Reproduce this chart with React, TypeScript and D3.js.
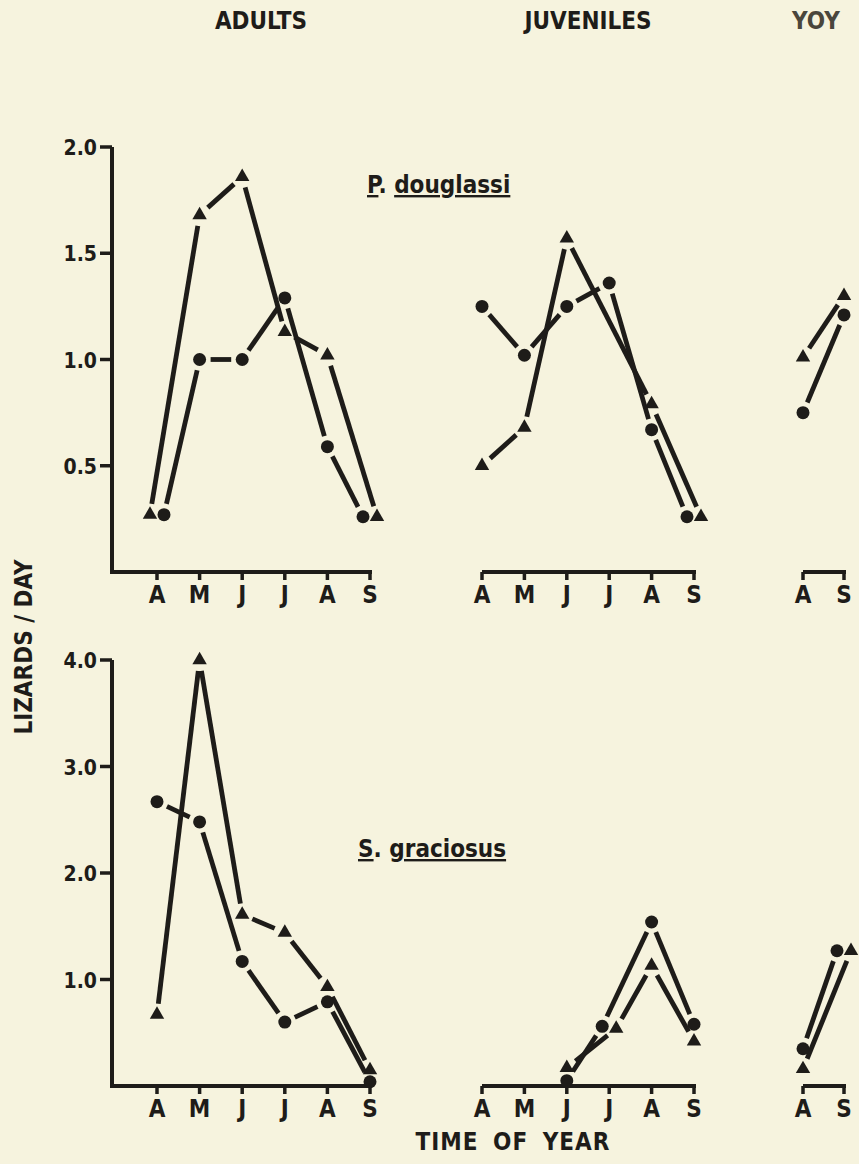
import React from 'react';
import * as d3 from 'd3';

// month labels (April .. September)
const months = ['A', 'M', 'J', 'J', 'A', 'S'];
const yoyMonths = ['A', 'S'];

const topTicks = [0.5, 1.0, 1.5, 2.0];
const bottomTicks = [1.0, 2.0, 3.0, 4.0];

// P. douglassi
const pdAdultTri = [0.27, 1.68, 1.86, 1.13, 1.02, 0.26];
const pdAdultCir = [0.27, 1.0, 1.0, 1.29, 0.59, 0.26];
const pdJuvTri = [0.5, 0.68, 1.57, null, 0.79, 0.26];
const pdJuvCir = [1.25, 1.02, 1.25, 1.36, 0.67, 0.26];
const pdYoyTri = [1.01, 1.3];
const pdYoyCir = [0.75, 1.21];

// S. graciosus
const sgAdultTri = [0.67, 4.0, 1.61, 1.44, 0.93, 0.15];
const sgAdultCir = [2.67, 2.48, 1.17, 0.6, 0.79, 0.04];
const sgJuvTri = [null, null, 0.17, 0.54, 1.13, 0.42];
const sgJuvCir = [null, null, 0.05, 0.56, 1.54, 0.58];
const sgYoyTri = [0.16, 1.27];
const sgYoyCir = [0.35, 1.27];

const W = 859;
const H = 1164;
const ink = '#1e1c19';
const bg = '#f6f3de';
const font = '"DejaVu Sans Condensed", "Liberation Sans Narrow", "DejaVu Sans", sans-serif';

const topY = d3.scaleLinear().domain([0, 2]).range([572, 147]);
const botY = d3.scaleLinear().domain([0, 4]).range([1086, 660]);

const adultX = d3.scaleLinear().domain([0, 5]).range([157, 370]);
const juvX = d3.scaleLinear().domain([0, 5]).range([482, 694]);
const yoyX = d3.scaleLinear().domain([0, 1]).range([803, 844]);

const line = d3.line();
const triPath = d3.symbol(d3.symbolTriangle, 90)();

type Vals = (number | null)[];

// push overlapping markers apart sideways
function offsets(tri: Vals, cir: Vals, y: d3.ScaleLinear<number, number>) {
  const t = tri.map(() => 0);
  const c = cir.map(() => 0);
  tri.forEach((v, i) => {
    const w = cir[i];
    if (v == null || w == null) return;
    if (Math.abs(y(v) - y(w)) < 10) {
      if (i === 0) { t[i] = -7; c[i] = 7; } else { t[i] = 7; c[i] = -7; }
    }
  });
  return { t, c };
}

function Series({ vals, off, x, y, kind }: any) {
  const pts: [number, number][] = [];
  vals.forEach((v: number | null, i: number) => {
    if (v != null) pts.push([x(i) + off[i], y(v)]);
  });
  const gap = 11;
  const segs = [];
  for (let i = 1; i < pts.length; i++) {
    const [x1, y1] = pts[i - 1];
    const [x2, y2] = pts[i];
    const len = Math.hypot(x2 - x1, y2 - y1);
    if (len <= gap * 2) continue;
    const ux = (x2 - x1) / len, uy = (y2 - y1) / len;
    segs.push(line([[x1 + ux * gap, y1 + uy * gap], [x2 - ux * gap, y2 - uy * gap]]));
  }
  return (
    <g>
      {segs.map((d, i) => (
        <path key={i} d={d as string} stroke={ink} strokeWidth={4.8} fill="none" />
      ))}
      {pts.map(([px, py], i) =>
        kind === 'tri' ? (
          <path key={'m' + i} d={triPath as string} transform={`translate(${px},${py})`} fill={ink} />
        ) : (
          <circle key={'m' + i} cx={px} cy={py} r={6.5} fill={ink} />
        )
      )}
    </g>
  );
}

function Panel({ tri, cir, x, y }: any) {
  const { t, c } = offsets(tri, cir, y);
  return (
    <g>
      <Series vals={tri} off={t} x={x} y={y} kind="tri" />
      <Series vals={cir} off={c} x={x} y={y} kind="cir" />
    </g>
  );
}

function MonthAxis({ x, y0, labels, fromX }: any) {
  const idx = labels.map((_: string, i: number) => i);
  const start = fromX ?? x(0);
  return (
    <g>
      <line x1={start} x2={x(idx.length - 1) + 2} y1={y0} y2={y0} stroke={ink} strokeWidth={4} />
      {idx.map((i: number) => (
        <line key={i} x1={x(i)} x2={x(i)} y1={y0} y2={y0 + 8} stroke={ink} strokeWidth={3.5} />
      ))}
      {labels.map((m: string, i: number) => (
        <text key={'t' + i} x={x(i)} y={y0 + 31} textAnchor="middle" fontSize={24} fontWeight="bold" fill={ink}>
          {m}
        </text>
      ))}
    </g>
  );
}

function ValueAxis({ y, ticks }: any) {
  const top = y(ticks[ticks.length - 1]);
  return (
    <g>
      <line x1={112} x2={112} y1={y(0) + 2} y2={top} stroke={ink} strokeWidth={4} />
      {ticks.map((v: number) => (
        <g key={v}>
          <line x1={100} x2={112} y1={y(v)} y2={y(v)} stroke={ink} strokeWidth={3.5} />
          <text x={97} y={y(v) + 8} textAnchor="end" fontSize={21} fontWeight="bold" fill={ink}>
            {v.toFixed(1)}
          </text>
        </g>
      ))}
    </g>
  );
}

function Species({ x, y, genus, name }: any) {
  return (
    <text x={x} y={y} fontSize={24} fontWeight="bold" fill={ink}>
      <tspan style={{ textDecoration: 'underline' }}>{genus}</tspan>
      <tspan>. </tspan>
      <tspan style={{ textDecoration: 'underline' }}>{name}</tspan>
    </text>
  );
}

export default function App() {
  return (
    <div style={{ position: 'absolute', left: 0, top: 0 }}>
      <svg width={W} height={H} style={{ display: 'block', fontFamily: font }}>
        <rect width={W} height={H} fill={bg} />

        <text x={261} y={29} textAnchor="middle" fontSize={24} fontWeight="bold" fill={ink}>ADULTS</text>
        <text x={588} y={29} textAnchor="middle" fontSize={24} fontWeight="bold" fill={ink}>JUVENILES</text>
        <text x={816} y={29} textAnchor="middle" fontSize={24} fontWeight="bold" fill="#4a463c">YOY</text>

        <text transform="translate(32,647) rotate(-90)" textAnchor="middle" fontSize={24} fontWeight="bold" fill={ink}>
          LIZARDS / DAY
        </text>
        <text x={513} y={1150} textAnchor="middle" fontSize={24} fontWeight="bold" fill={ink} letterSpacing={1} wordSpacing={6}>
          TIME OF YEAR
        </text>

        {/* P. douglassi */}
        <ValueAxis y={topY} ticks={topTicks} />
        <MonthAxis x={adultX} y0={topY(0)} labels={months} fromX={112} />
        <MonthAxis x={juvX} y0={topY(0)} labels={months} />
        <MonthAxis x={yoyX} y0={topY(0)} labels={yoyMonths} />
        <Species x={367} y={193} genus="P" name="douglassi" />
        <Panel tri={pdAdultTri} cir={pdAdultCir} x={adultX} y={topY} />
        <Panel tri={pdJuvTri} cir={pdJuvCir} x={juvX} y={topY} />
        <Panel tri={pdYoyTri} cir={pdYoyCir} x={yoyX} y={topY} />

        {/* S. graciosus */}
        <ValueAxis y={botY} ticks={bottomTicks} />
        <MonthAxis x={adultX} y0={botY(0)} labels={months} fromX={112} />
        <MonthAxis x={juvX} y0={botY(0)} labels={months} />
        <MonthAxis x={yoyX} y0={botY(0)} labels={yoyMonths} />
        <Species x={358} y={857} genus="S" name="graciosus" />
        <Panel tri={sgAdultTri} cir={sgAdultCir} x={adultX} y={botY} />
        <Panel tri={sgJuvTri} cir={sgJuvCir} x={juvX} y={botY} />
        <Panel tri={sgYoyTri} cir={sgYoyCir} x={yoyX} y={botY} />
      </svg>
    </div>
  );
}
